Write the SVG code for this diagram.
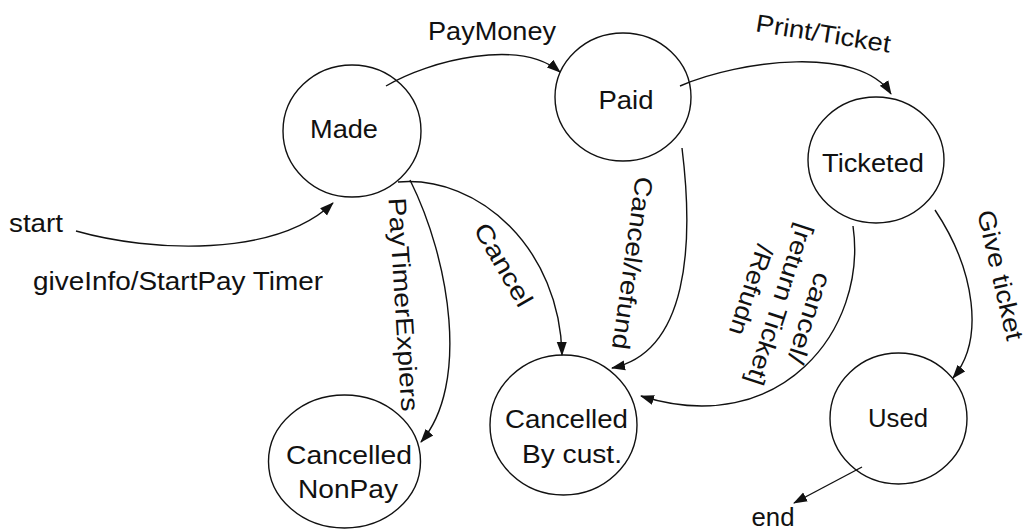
<svg xmlns="http://www.w3.org/2000/svg" width="1036" height="530" viewBox="0 0 1036 530">
<defs>
<style>
.node{fill:none;stroke:#111;stroke-width:1.4}
.edge{fill:none;stroke:#111;stroke-width:1.4}
text{font-family:"Liberation Sans",Arial,sans-serif;font-size:25px;fill:#111}
.c{text-anchor:middle}
</style>
<marker id="ah" markerUnits="userSpaceOnUse" markerWidth="14" markerHeight="12" viewBox="0 0 14 12" refX="13" refY="6" orient="auto">
<path d="M0,1 L14,6 L0,11 Z" fill="#111"/>
</marker>
</defs>
<rect width="1036" height="530" fill="#fff"/>
<g id="connectors">
<path class="edge" d="M76,231 C150,252 275,258 333,203" marker-end="url(#ah)"/>
<path class="edge" d="M386,86 C430,60 520,38 560,72" marker-end="url(#ah)"/>
<path class="edge" d="M680,86 C740,60 860,45 891,94" marker-end="url(#ah)"/>
<path class="edge" d="M410,180 C450,260 470,385 421,442" marker-end="url(#ah)"/>
<path class="edge" d="M398,182 C480,175 560,250 562,355" marker-end="url(#ah)"/>
<path class="edge" d="M682,148 C694,245 688,352 612,368" marker-end="url(#ah)"/>
<path class="edge" d="M853,226 C868,330 780,440 641,396" marker-end="url(#ah)"/>
<path class="edge" d="M935,210 C975,270 985,340 953,378" marker-end="url(#ah)"/>
<path class="edge" d="M862,467 L794,503" marker-end="url(#ah)"/>
</g>
<g id="labels">
<text class="c" x="36" y="232" textLength="54" lengthAdjust="spacingAndGlyphs">start</text>
<text class="c" x="178" y="290" textLength="290" lengthAdjust="spacingAndGlyphs">giveInfo/StartPay Timer</text>
<text class="c" x="492" y="40" textLength="128" lengthAdjust="spacingAndGlyphs">PayMoney</text>
<text class="c" transform="translate(822,42) rotate(9)" textLength="136" lengthAdjust="spacingAndGlyphs">Print/Ticket</text>
<text class="c" transform="translate(395,305) rotate(86.5)" textLength="214" lengthAdjust="spacingAndGlyphs">PayTimerExpiers</text>
<text class="c" transform="translate(496,269) rotate(60)" textLength="92" lengthAdjust="spacingAndGlyphs">Cancel</text>
<text class="c" transform="translate(624,262) rotate(98)" textLength="174" lengthAdjust="spacingAndGlyphs">Cancel/refund</text>
<g transform="translate(772,302) rotate(108)">
<text class="c" x="4" y="-32" textLength="94" lengthAdjust="spacingAndGlyphs">cancel/</text>
<text class="c" x="0" y="0" textLength="168" lengthAdjust="spacingAndGlyphs">[return Ticket]</text>
<text class="c" x="-5" y="32" textLength="94" lengthAdjust="spacingAndGlyphs">/Refudn</text>
</g>
<text class="c" transform="translate(992,277) rotate(77)" textLength="133" lengthAdjust="spacingAndGlyphs">Give ticket</text>
<text class="c" x="773" y="526" textLength="43" lengthAdjust="spacingAndGlyphs">end</text>
</g>
<g id="made">
<ellipse class="node" cx="352" cy="131" rx="69" ry="66"/>
<text class="c" x="344" y="138" textLength="68" lengthAdjust="spacingAndGlyphs">Made</text>
</g>
<g id="paid">
<ellipse class="node" cx="623" cy="97" rx="68" ry="64"/>
<text class="c" x="626" y="109" textLength="55" lengthAdjust="spacingAndGlyphs">Paid</text>
</g>
<g id="ticketed">
<ellipse class="node" cx="876" cy="160" rx="68" ry="63"/>
<text class="c" x="873" y="172" textLength="102" lengthAdjust="spacingAndGlyphs">Ticketed</text>
</g>
<g id="cancelled-nonpay">
<ellipse class="node" cx="344.5" cy="461.5" rx="76" ry="66.5"/>
<text class="c" x="349" y="464" textLength="126" lengthAdjust="spacingAndGlyphs">Cancelled</text>
<text class="c" x="348" y="498" textLength="100" lengthAdjust="spacingAndGlyphs">NonPay</text>
</g>
<g id="cancelled-bycust">
<ellipse class="node" cx="563.5" cy="425" rx="73.5" ry="70"/>
<text class="c" x="566.5" y="428" textLength="123" lengthAdjust="spacingAndGlyphs">Cancelled</text>
<text class="c" x="572" y="463" textLength="100" lengthAdjust="spacingAndGlyphs">By cust.</text>
</g>
<g id="used">
<ellipse class="node" cx="898.5" cy="418.5" rx="68.5" ry="65.5"/>
<text class="c" x="898" y="427" textLength="60" lengthAdjust="spacingAndGlyphs">Used</text>
</g>
</svg>
